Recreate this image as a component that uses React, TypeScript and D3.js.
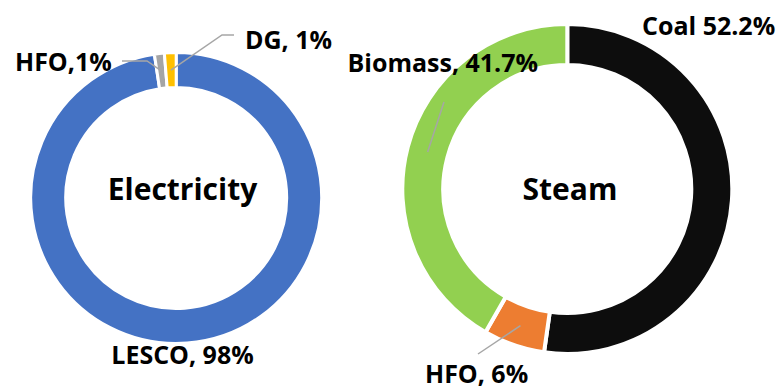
import React from "react";
import * as d3 from "d3";

// ---- data ----
const elecCategories = ["LESCO", "HFO", "DG"];
const elecValues = [97.6, 1.1, 1.3];
const elecLabels = ["LESCO, 98%", "HFO,1%", "DG, 1%"];
const elecColors = ["#4472C4", "#A5A5A5", "#FFC000"];

const steamCategories = ["Coal", "HFO", "Biomass"];
const steamValues = [52.2, 6.0, 41.7];
const steamLabels = ["Coal 52.2%", "HFO, 6%", "Biomass, 41.7%"];
const steamColors = ["#0D0D0D", "#ED7D31", "#92D050"];

const titles = ["Electricity", "Steam"];

// ---- layout ----
const W = 783;
const H = 390;
const FONT = "'Open Sans', 'Noto Sans', sans-serif";

type LabelLayout = { x: number; y: number; anchor: "start" | "middle" | "end"; leader: [number, number][] | null };

const elecLayout = {
  cx: 176.2, cy: 198, outer: 145.5, inner: 110.5, gap: 3,
  titleX: 182.5, titleY: 200,
  labels: [
    { x: 182.5, y: 364, anchor: "middle", leader: null },
    { x: 15, y: 71, anchor: "start", leader: [[147, 61], [122, 61]] },
    { x: 245, y: 48.5, anchor: "start", leader: [[222, 35], [234, 35]] },
  ] as LabelLayout[],
};

const steamLayout = {
  cx: 567.3, cy: 189, outer: 165, inner: 124, gap: 4,
  titleX: 570, titleY: 200,
  labels: [
    { x: 642, y: 34.5, anchor: "start", leader: null },
    { x: 425, y: 383, anchor: "start", leader: [[478, 354]] },
    { x: 347.5, y: 72.3, anchor: "start", leader: [[444, 102]] },
  ] as LabelLayout[],
};

function Donut(props: {
  values: number[];
  categories: string[];
  labels: string[];
  colors: string[];
  title: string;
  layout: typeof elecLayout;
}) {
  const { values, categories, labels, colors, title, layout } = props;
  const pie = d3.pie<number>().sort(null).value((d) => d);
  const arcs = pie(values);
  const arc = d3.arc<d3.PieArcDatum<number>>().innerRadius(layout.inner).outerRadius(layout.outer);
  const line = d3.line();
  return (
    <g>
      <g transform={`translate(${layout.cx},${layout.cy})`}>
        {arcs.map((a, i) => (
          <path
            key={categories[i]}
            d={arc(a) || ""}
            fill={colors[i]}
            stroke="#fff"
            strokeWidth={layout.gap}
            strokeLinejoin="miter"
          />
        ))}
      </g>
      {arcs.map((a, i) => {
        const L = layout.labels[i];
        if (!L.leader) return null;
        const c = arc.centroid(a);
        const pts: [number, number][] = [[c[0] + layout.cx, c[1] + layout.cy], ...L.leader];
        return (
          <path key={"l" + i} d={line(pts) || ""} fill="none" stroke="#A6A6A6" strokeWidth={1.5} />
        );
      })}
      {arcs.map((a, i) => {
        const L = layout.labels[i];
        return (
          <text
            key={"t" + i}
            x={L.x}
            y={L.y}
            textAnchor={L.anchor}
            fontFamily={FONT}
            fontWeight={700}
            fontSize={25}
            fill="#000"
          >
            {labels[i]}
          </text>
        );
      })}
      <text
        x={layout.titleX}
        y={layout.titleY}
        textAnchor="middle"
        fontFamily={FONT}
        fontWeight={700}
        fontSize={30}
        fill="#000"
      >
        {title}
      </text>
    </g>
  );
}

export default function App() {
  return (
    <svg
      width={W}
      height={H}
      viewBox={`0 0 ${W} ${H}`}
      style={{ position: "absolute", left: 0, top: 0, background: "#fff" }}
    >
      <rect width={W} height={H} fill="#fff" />
      <Donut
        values={elecValues}
        categories={elecCategories}
        labels={elecLabels}
        colors={elecColors}
        title={titles[0]}
        layout={elecLayout}
      />
      <Donut
        values={steamValues}
        categories={steamCategories}
        labels={steamLabels}
        colors={steamColors}
        title={titles[1]}
        layout={steamLayout}
      />
    </svg>
  );
}
